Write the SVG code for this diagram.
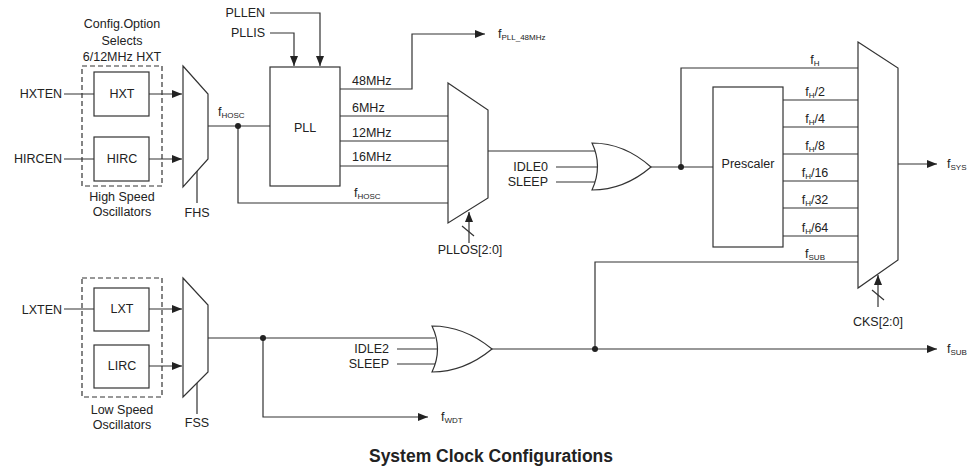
<svg xmlns="http://www.w3.org/2000/svg" width="972" height="470" viewBox="0 0 972 470">
<style>
text{font-family:"Liberation Sans",Arial,sans-serif;font-size:12.5px;fill:#222}
.m{text-anchor:middle}
.e{text-anchor:end}
.s{font-size:8px}
.t{font-size:17.5px;font-weight:bold}
.w{fill:none;stroke:#333;stroke-width:1.2}
.b{fill:#fff;stroke:#333;stroke-width:1.2}
.d{fill:none;stroke:#333;stroke-width:1.2;stroke-dasharray:5 3}
.a{marker-end:url(#ar)}
</style>
<defs>
<marker id="ar" markerUnits="userSpaceOnUse" markerWidth="10" markerHeight="8" refX="10" refY="4" orient="auto">
<path d="M0,0 L10,4 L0,8 z" fill="#222"/>
</marker>
</defs>
<g id="connectors">
<path class="w" d="M64 94H94M64 159H94M64 309H94"/>
<path class="w a" d="M149 94H182"/>
<path class="w a" d="M149 159H182"/>
<path class="w a" d="M149 309H182"/>
<path class="w a" d="M149 366H182"/>
<path class="w" d="M208 126H270M238 126V203H448"/>
<path class="w a" d="M270 13H320V66"/>
<path class="w a" d="M270 33H294V66"/>
<path class="w a" d="M340 89H412V34H485"/>
<path class="w" d="M340 116H448M340 141H448M340 166H448"/>
<path class="w" d="M488 151H595M556 167H597M556 182H596"/>
<path class="w" d="M651 167H713M681 167V68H858"/>
<path class="w" d="M783 100H858M783 127H858M783 154H858M783 181H858M783 208H858M783 236H858"/>
<path class="w" d="M595 349V262H858"/>
<path class="w a" d="M898 164H937"/>
<path class="w a" d="M878 307V275"/>
<path class="w" d="M872 290L884 300"/>
<path class="w a" d="M469 243V212"/>
<path class="w" d="M462 226L474 236"/>
<path class="w" d="M197 171V203M197 383V414"/>
<path class="w" d="M208 338H435"/>
<path class="w a" d="M263 338V417H428"/>
<path class="w" d="M397 349H437M397 364H436"/>
<path class="w a" d="M492 349H937"/>
<circle cx="238" cy="126" r="3" fill="#222"/>
<circle cx="681" cy="167" r="3" fill="#222"/>
<circle cx="595" cy="349" r="3" fill="#222"/>
<circle cx="263" cy="338" r="3" fill="#222"/>
</g>
<g id="hso-group">
<rect class="d" x="82" y="66" width="80" height="120"/>
<text class="m" x="122" y="28">Config.Option</text>
<text class="m" x="122" y="45">Selects</text>
<text class="m" x="122" y="61">6/12MHz HXT</text>
<text class="m" x="122" y="201">High Speed</text>
<text class="m" x="122" y="216">Oscillators</text>
</g>
<g id="hxt"><rect class="b" x="94" y="72" width="55" height="44"/><text class="m" x="122" y="98">HXT</text></g>
<g id="hirc"><rect class="b" x="94" y="137" width="55" height="44"/><text class="m" x="122" y="163">HIRC</text></g>
<g id="lso-group">
<rect class="d" x="82" y="278" width="80" height="119"/>
<text class="m" x="122" y="414">Low Speed</text>
<text class="m" x="122" y="429">Oscillators</text>
</g>
<g id="lxt"><rect class="b" x="94" y="288" width="55" height="43"/><text class="m" x="122" y="313">LXT</text></g>
<g id="lirc"><rect class="b" x="94" y="345" width="55" height="43"/><text class="m" x="122" y="370">LIRC</text></g>
<g id="inputs">
<text class="e" x="62" y="98">HXTEN</text>
<text class="e" x="62" y="163">HIRCEN</text>
<text class="e" x="62" y="314">LXTEN</text>
<text class="e" x="265" y="17">PLLEN</text>
<text class="e" x="265" y="37">PLLIS</text>
<text class="e" x="548" y="171">IDLE0</text>
<text class="e" x="548" y="186">SLEEP</text>
<text class="e" x="389" y="353">IDLE2</text>
<text class="e" x="389" y="368">SLEEP</text>
</g>
<g id="fhs-mux"><path class="b" d="M183 66L208 94V159L183 187Z"/><text class="m" x="197" y="217">FHS</text></g>
<g id="fss-mux"><path class="b" d="M183 278L208 305V372L183 397Z"/><text class="m" x="197" y="427">FSS</text></g>
<g id="pll"><rect class="b" x="270" y="67" width="70" height="119"/><text class="m" x="305" y="132">PLL</text></g>
<g id="pll-labels">
<text x="218" y="116">f<tspan class="s" dy="2">HOSC</tspan></text>
<text x="352" y="85">48MHz</text>
<text x="352" y="112">6MHz</text>
<text x="352" y="137">12MHz</text>
<text x="352" y="161">16MHz</text>
<text x="354" y="197">f<tspan class="s" dy="2">HOSC</tspan></text>
<text x="498" y="38">f<tspan class="s" dy="2">PLL_48MHz</tspan></text>
</g>
<g id="pllos-mux"><path class="b" d="M448 83L488 110V198L448 223Z"/><text class="m" x="470" y="254">PLLOS[2:0]</text></g>
<g id="or-high"><path class="b" d="M592 143Q624 143 651 167Q624 190 592 190Q603 166 592 143Z"/></g>
<g id="or-low"><path class="b" d="M432 326Q464 326 492 349Q464 372 432 372Q443 349 432 326Z"/></g>
<g id="prescaler"><rect class="b" x="713" y="87" width="70" height="160"/><text class="m" x="748" y="168">Prescaler</text></g>
<g id="cks-labels">
<text class="m" x="815" y="64">f<tspan class="s" dy="2">H</tspan></text>
<text class="m" x="815" y="96">f<tspan class="s" dy="2">H</tspan><tspan dy="-2">/2</tspan></text>
<text class="m" x="815" y="123">f<tspan class="s" dy="2">H</tspan><tspan dy="-2">/4</tspan></text>
<text class="m" x="815" y="150">f<tspan class="s" dy="2">H</tspan><tspan dy="-2">/8</tspan></text>
<text class="m" x="815" y="177">f<tspan class="s" dy="2">H</tspan><tspan dy="-2">/16</tspan></text>
<text class="m" x="815" y="204">f<tspan class="s" dy="2">H</tspan><tspan dy="-2">/32</tspan></text>
<text class="m" x="815" y="232">f<tspan class="s" dy="2">H</tspan><tspan dy="-2">/64</tspan></text>
<text class="m" x="815" y="258">f<tspan class="s" dy="2">SUB</tspan></text>
</g>
<g id="cks-mux"><path class="b" d="M858 42L898 68V260L858 288Z"/><text class="m" x="878" y="326">CKS[2:0]</text></g>
<g id="outputs">
<text x="947" y="168">f<tspan class="s" dy="2">SYS</tspan></text>
<text x="947" y="353">f<tspan class="s" dy="2">SUB</tspan></text>
<text x="441" y="421">f<tspan class="s" dy="2">WDT</tspan></text>
</g>
<text class="m t" x="491" y="462">System Clock Configurations</text>
</svg>
